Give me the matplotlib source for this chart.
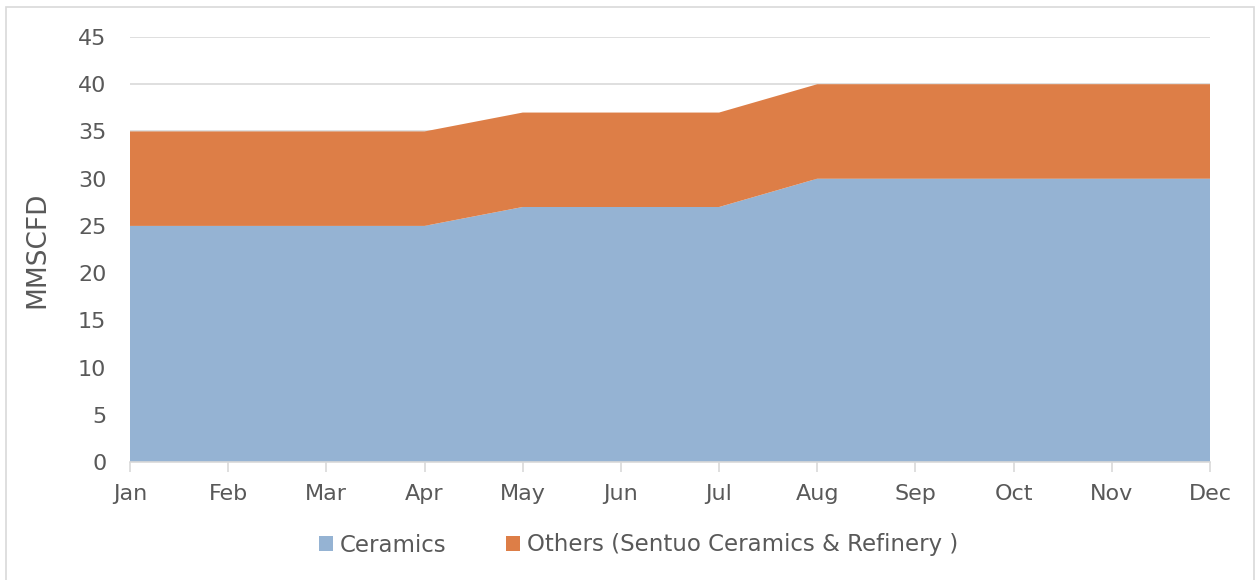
import matplotlib
matplotlib.use("Agg")
import matplotlib.pyplot as plt
from matplotlib.patches import Rectangle, Patch

months = ["Jan", "Feb", "Mar", "Apr", "May", "Jun", "Jul", "Aug", "Sep", "Oct", "Nov", "Dec"]
ceramics = [25, 25, 25, 25, 27, 27, 27, 30, 30, 30, 30, 30]
others = [10, 10, 10, 10, 10, 10, 10, 10, 10, 10, 10, 10]
series_names = ["Ceramics", "Others (Sentuo Ceramics & Refinery )"]
colors = ["#95b3d3", "#dd7e47"]
yticks = [0, 5, 10, 15, 20, 25, 30, 35, 40, 45]

plt.rcParams['font.family'] = ['DejaVu Sans']
txt = "#595959"
fs = 16

fig = plt.figure(figsize=(12.6, 5.8), dpi=100)
ax = fig.add_axes([130/1260, 1-462/580, 1080/1260, 425/580])

x = list(range(len(months)))
ax.stackplot(x, ceramics, others, colors=colors, linewidth=0)

ax.set_xlim(0, len(months)-1)
ax.set_ylim(0, 45)
ax.set_yticks(yticks)
ax.set_xticks(x)
ax.set_xticklabels(months)
ax.grid(axis='y', color='#d9d9d9', linewidth=1.2)
ax.set_axisbelow(True)
for s in ['top', 'right', 'left']:
    ax.spines[s].set_visible(False)
ax.spines['bottom'].set_color('#d9d9d9')
ax.spines['bottom'].set_linewidth(1.2)
ax.spines['bottom'].set_zorder(5)
ax.tick_params(axis='y', length=0, pad=17, labelsize=fs, labelcolor=txt)
ax.tick_params(axis='x', length=7, width=1.2, color='#d9d9d9', pad=9, labelsize=fs, labelcolor=txt)
ax.set_ylabel("MMSCFD", fontsize=19, color=txt, labelpad=20)

handles = [Patch(facecolor=c, edgecolor='none') for c in colors]
fig.legend(handles, series_names, loc='center', bbox_to_anchor=(0.507, 1-545/580),
           ncol=2, frameon=False, fontsize=16.5, labelcolor=txt,
           handlelength=0.6, handleheight=0.6, handletextpad=0.3, columnspacing=2.6)

fig.patches.append(Rectangle((6/1260, -0.01), 1248/1260, 1-7/580+0.01, transform=fig.transFigure,
                             fill=False, edgecolor='#d9d9d9', linewidth=1.2))

fig.savefig("out.png", dpi=100)
